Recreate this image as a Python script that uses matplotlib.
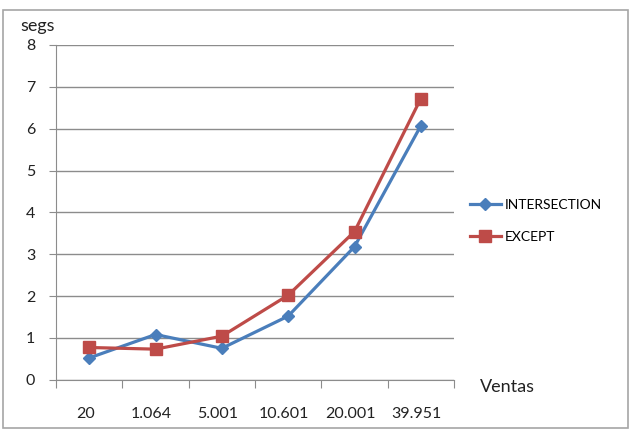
import numpy as np
import matplotlib.pyplot as plt
from matplotlib.patches import Rectangle

plt.rcParams['font.family'] = ['Lato', 'DejaVu Sans']

categories = ['20', '1.064', '5.001', '10.601', '20.001', '39.951']
intersection = [0.52, 1.08, 0.75, 1.52, 3.18, 6.07]
except_vals = [0.77, 0.73, 1.04, 2.02, 3.54, 6.72]

fig = plt.figure(figsize=(6.35, 4.36), dpi=100)

# outer chart border
fig.patches.append(Rectangle((3 / 635, 1 - 428 / 436), 625 / 635, 418 / 436,
                             transform=fig.transFigure, fill=False,
                             edgecolor='#a6a6a6', linewidth=1.2))

ax = fig.add_axes([56 / 635, 56.3 / 436, 398 / 635, 334.7 / 436])
x = np.arange(len(categories))

ax.plot(x, intersection, color='#4a7ebb', linewidth=2.3, marker='D',
        markersize=6.5, label='INTERSECTION', zorder=3)
ax.plot(x, except_vals, color='#be4b48', linewidth=2.3, marker='s',
        markersize=8.5, label='EXCEPT', zorder=3)

ax.set_xlim(-0.5, len(categories) - 0.5)
ax.set_ylim(0, 8)
ax.set_yticks(range(0, 9))
ax.yaxis.grid(True, color='#8c8c8c', linewidth=1)
ax.set_axisbelow(True)

ax.set_xticks(np.arange(len(categories) + 1) - 0.5)
ax.set_xticklabels([])
ax.set_xticks(x - 0.06, minor=True)
ax.set_xticklabels(categories, minor=True)
ax.tick_params(axis='x', which='minor', length=0, pad=20, labelsize=11.5,
               labelcolor='#222222')
ax.tick_params(axis='x', which='major', length=6, color='#8c8c8c')
ax.tick_params(axis='y', length=5, color='#8c8c8c', labelsize=11.5,
               labelcolor='#222222', pad=10)

for s in ['top', 'right']:
    ax.spines[s].set_visible(False)
ax.spines['left'].set_color('#8c8c8c')
ax.spines['bottom'].set_color('#8c8c8c')

fig.text(20 / 635, 1 - 26 / 436, 'segs', fontsize=13, va='center',
         color='#222222')
fig.text(480 / 635, 1 - 387 / 436, 'Ventas', fontsize=13, va='center',
         color='#222222')

ax.legend(loc='center left', bbox_to_anchor=(470 / 635, 1 - 221 / 436),
          bbox_transform=fig.transFigure, frameon=False, fontsize=10,
          handlelength=2.2, handletextpad=0.3, labelspacing=1.45,
          borderaxespad=0, borderpad=0)

fig.savefig('out.png', dpi=100)
